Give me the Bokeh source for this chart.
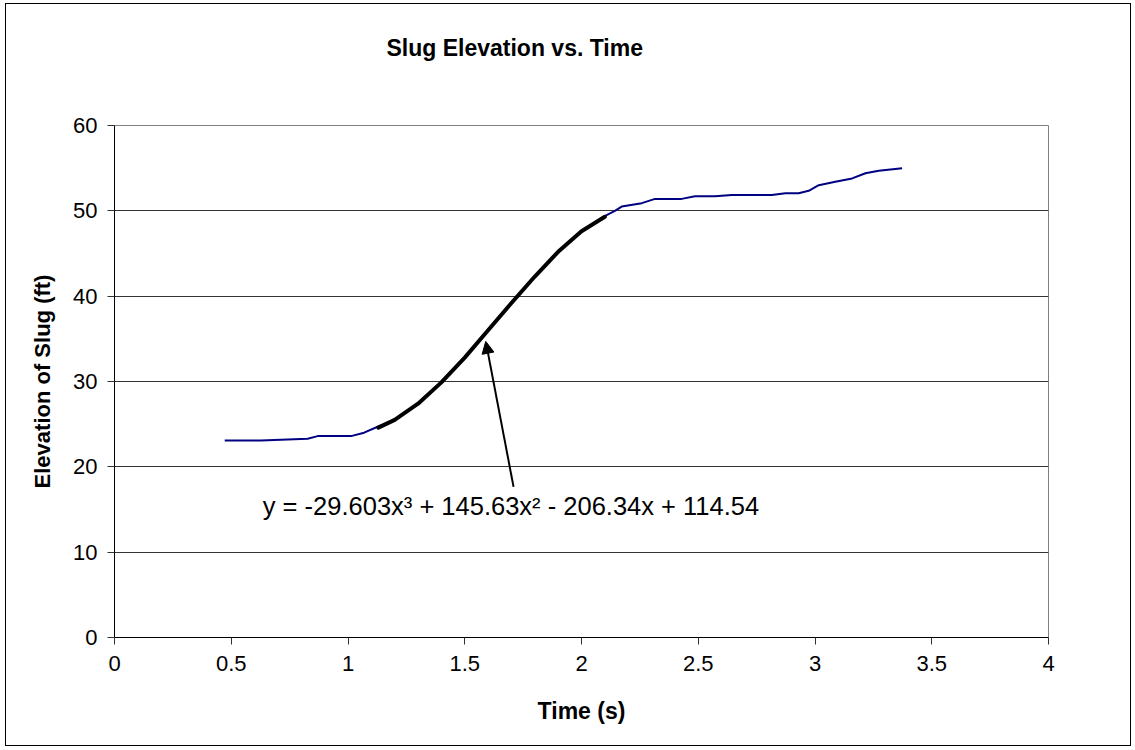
from bokeh.plotting import figure
from bokeh.models import Range1d, FixedTicker, Arrow, NormalHead, Label, Title
from bokeh.embed import file_html
from bokeh.resources import INLINE

# ---- data ----
time_s = [0.472, 0.627, 0.827, 0.870, 1.013, 1.069, 1.127, 1.20, 1.30, 1.40, 1.50, 1.60,
          1.70, 1.80, 1.90, 2.00, 2.093, 2.143, 2.172, 2.258, 2.315, 2.429, 2.486, 2.572,
          2.644, 2.815, 2.873, 2.930, 2.973, 3.016, 3.087, 3.159, 3.216, 3.273, 3.373]
elev_ft = [23.1, 23.1, 23.3, 23.6, 23.6, 24.0, 24.7, 25.5, 27.4, 29.9, 32.8, 36.0,
           39.2, 42.3, 45.2, 47.6, 49.3, 50.0, 50.5, 50.9, 51.4, 51.4, 51.7, 51.7,
           51.85, 51.85, 52.05, 52.05, 52.35, 53.0, 53.4, 53.8, 54.4, 54.7, 55.0]

fit_time = [1.13, 1.20, 1.30, 1.40, 1.50, 1.60, 1.70, 1.80, 1.90, 2.00, 2.10]
fit_elev = [24.6, 25.5, 27.4, 29.9, 32.8, 36.0, 39.2, 42.3, 45.2, 47.6, 49.3]

x_ticks = [0, 0.5, 1, 1.5, 2, 2.5, 3, 3.5, 4]
y_ticks = [0, 10, 20, 30, 40, 50, 60]

title_text = "Slug Elevation vs. Time"
equation = "y = -29.603x\u00b3 + 145.63x\u00b2 - 206.34x + 114.54"
arrow_tail = (1.709, 17.65)
arrow_head = (1.590, 34.7)
eq_pos = (0.635, 15.4)

FONT = "Liberation Sans"

p = figure(width=1126, height=743, x_range=Range1d(0, 4), y_range=Range1d(0, 60),
           title=None, output_backend="svg", toolbar_location=None,
           min_border_left=108, min_border_top=121, min_border_right=84, min_border_bottom=110,
           background_fill_color="white", border_fill_color="white")
p.styles = {"border": "1px solid black", "box-sizing": "border-box",
            "margin-left": "5px", "margin-top": "3px"}

# blank spacer next to the frame, then the title further out
p.add_layout(Title(text=" ", text_font_size="10px", standoff=52, text_color="white"), "above")
p.add_layout(Title(text=title_text, text_font=FONT, text_font_size="23px",
                   text_font_style="bold", text_color="black", align="left",
                   offset=272, standoff=0), "above")

# frame
p.outline_line_color = "#808080"
p.outline_line_width = 1

# grids
p.xgrid.visible = False
p.ygrid.ticker = FixedTicker(ticks=y_ticks)
p.ygrid.grid_line_color = "#333333"
p.ygrid.grid_line_width = 1

for ax, ticks in ((p.xaxis[0], x_ticks), (p.yaxis[0], y_ticks)):
    ax.ticker = FixedTicker(ticks=ticks)
    ax.axis_line_color = "black"
    ax.major_tick_line_color = "#333333"
    ax.major_tick_in = 0
    ax.major_tick_out = 7
    ax.minor_tick_line_color = None
    ax.major_label_text_font = FONT
    ax.major_label_text_font_size = "22px"
    ax.major_label_text_color = "black"
    ax.axis_label_text_font = FONT
    ax.axis_label_text_font_style = "bold"
    ax.axis_label_text_color = "black"

p.xaxis.major_label_overrides = {0: "0", 0.5: "0.5", 1: "1", 1.5: "1.5", 2: "2",
                                 2.5: "2.5", 3: "3", 3.5: "3.5", 4: "4"}
p.xaxis.axis_label = "Time (s)"
p.yaxis.axis_label = "Elevation of Slug (ft)"
p.xaxis.axis_label_text_font_size = "23px"
p.yaxis.axis_label_text_font_size = "22px"
p.xaxis.major_label_standoff = 11
p.xaxis.axis_label_standoff = 24
p.yaxis.major_label_standoff = 10
p.yaxis.axis_label_standoff = 15

# data line
p.line(time_s, elev_ft, line_color="#000080", line_width=2)
# fitted subset (magenta) and trendline (black)
p.line(fit_time, fit_elev, line_color="#FF00FF", line_width=1)
p.line(fit_time, fit_elev, line_color="black", line_width=4, line_join="round", line_cap="round")

# annotation arrow and equation
p.add_layout(Arrow(x_start=arrow_tail[0], y_start=arrow_tail[1],
                   x_end=arrow_head[0], y_end=arrow_head[1],
                   line_color="black", line_width=2,
                   end=NormalHead(size=12, fill_color="black", line_color="black")))
p.add_layout(Label(x=eq_pos[0], y=eq_pos[1], text=equation, text_font=FONT,
                   text_font_size="25.5px", text_color="black", text_baseline="alphabetic"))

open("out.html", "w").write(file_html(p, INLINE))
